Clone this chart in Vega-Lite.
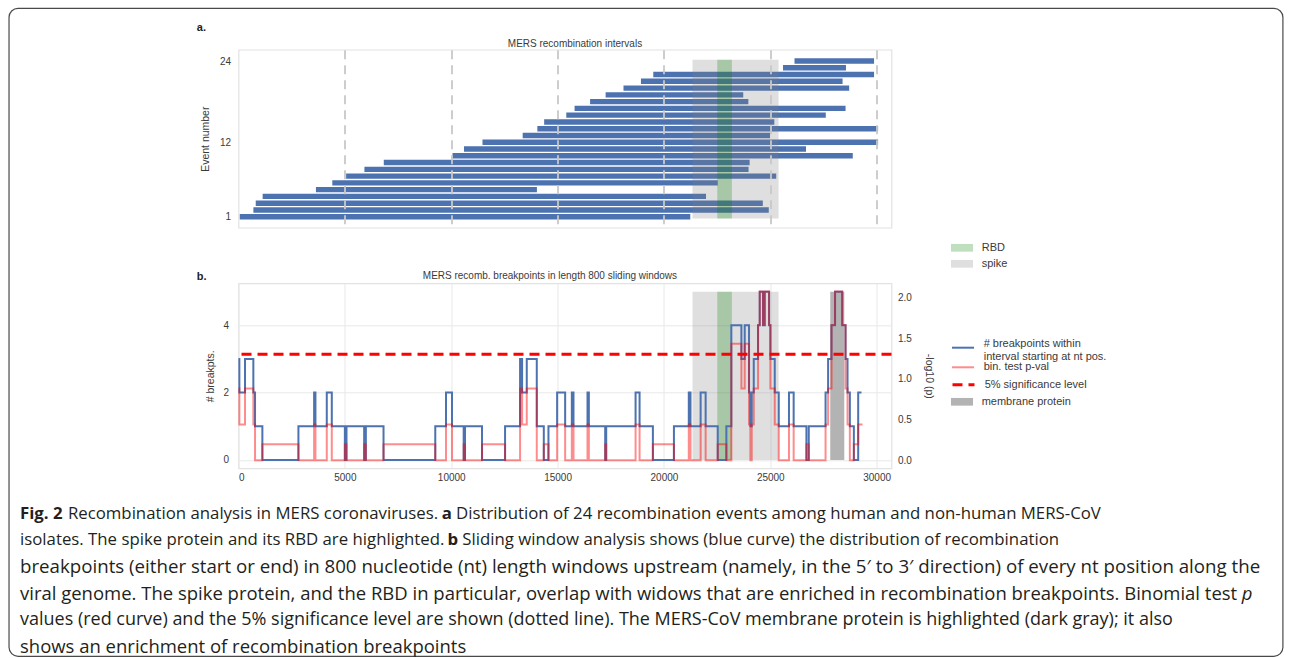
{
  "$schema": "https://vega.github.io/schema/vega-lite/v6.json",
  "background": "white",
  "padding": {"left": 7.5, "top": 6.7, "right": 0, "bottom": 0},
  "bounds": "flush",
  "spacing": 55.6,
  "config": {
    "font": "Liberation Sans",
    "view": {"stroke": "#e2e2e2", "strokeWidth": 1.2},
    "axis": {"labelFontSize": 10, "labelColor": "#3a3a3a", "titleFontSize": 10.5, "titleFontWeight": "normal", "titleColor": "#3a3a3a", "ticks": false, "domain": false, "gridColor": "#e8e8e8", "gridWidth": 1, "labelOverlap": false},
    "legend": {"labelFontSize": 11, "labelColor": "#3a3a3a", "padding": 0}
  },
  "resolve": {
    "scale": {"fill": "independent", "stroke": "independent", "color": "independent", "opacity": "independent", "strokeDash": "independent", "size": "independent"},
    "legend": {"fill": "independent", "stroke": "independent", "color": "independent", "opacity": "independent", "strokeDash": "independent", "size": "independent"}
  },
  "datasets": {
    "events": [
      {"event": 1, "start": 60, "end": 21240},
      {"event": 2, "start": 700, "end": 24930},
      {"event": 3, "start": 810, "end": 24650},
      {"event": 4, "start": 1135, "end": 21980},
      {"event": 5, "start": 3640, "end": 14030},
      {"event": 6, "start": 4410, "end": 22530},
      {"event": 7, "start": 5060, "end": 25280},
      {"event": 8, "start": 5920, "end": 23980},
      {"event": 9, "start": 6830, "end": 24030},
      {"event": 10, "start": 10060, "end": 28880},
      {"event": 11, "start": 10600, "end": 26680},
      {"event": 12, "start": 11470, "end": 30070},
      {"event": 13, "start": 13360, "end": 24990},
      {"event": 14, "start": 14050, "end": 30070},
      {"event": 15, "start": 14370, "end": 25190},
      {"event": 16, "start": 15410, "end": 27610},
      {"event": 17, "start": 15800, "end": 28540},
      {"event": 18, "start": 16530, "end": 23970},
      {"event": 19, "start": 17260, "end": 23730},
      {"event": 20, "start": 18100, "end": 28710},
      {"event": 21, "start": 18920, "end": 28400},
      {"event": 22, "start": 19500, "end": 29880},
      {"event": 23, "start": 25600, "end": 28560},
      {"event": 24, "start": 26140, "end": 29880}
    ],
    "regions": [
      {"region": "spike", "start": 21345, "end": 25390},
      {"region": "RBD", "start": 22510, "end": 23195}
    ],
    "membrane": [
      {"name": "membrane protein", "start": 27820, "end": 28480}
    ],
    "sig": [
      {"label": "5% significance level", "p": 1.301}
    ],
    "frame": [
      {"frame": "figure"}
    ],
    "labels": [
      {"panel": "a", "label": "a."},
      {"panel": "b", "label": "b."},
      {"panel": "ta", "label": "MERS recombination intervals"},
      {"panel": "tb", "label": "MERS recomb. breakpoints in length 800 sliding windows"}
    ],
    "breaks": [
      {"pos": 0, "n": 3}, {"pos": 40, "n": 2}, {"pos": 306, "n": 3}, {"pos": 698, "n": 2}, {"pos": 777, "n": 1},
      {"pos": 1122, "n": 0}, {"pos": 2817, "n": 1}, {"pos": 3555, "n": 2}, {"pos": 3617, "n": 1}, {"pos": 4150, "n": 2},
      {"pos": 4386, "n": 1}, {"pos": 5000, "n": 0}, {"pos": 5077, "n": 1}, {"pos": 5908, "n": 0}, {"pos": 5987, "n": 1},
      {"pos": 6818, "n": 0}, {"pos": 9251, "n": 1}, {"pos": 9755, "n": 2}, {"pos": 10037, "n": 1}, {"pos": 10586, "n": 0},
      {"pos": 10649, "n": 1}, {"pos": 11449, "n": 0}, {"pos": 12532, "n": 1}, {"pos": 13238, "n": 3}, {"pos": 13333, "n": 2},
      {"pos": 13552, "n": 3}, {"pos": 14023, "n": 1}, {"pos": 14353, "n": 0}, {"pos": 14572, "n": 1}, {"pos": 14980, "n": 2},
      {"pos": 15357, "n": 1}, {"pos": 15671, "n": 2}, {"pos": 15749, "n": 1}, {"pos": 16408, "n": 2}, {"pos": 16471, "n": 1},
      {"pos": 17240, "n": 0}, {"pos": 17287, "n": 1}, {"pos": 18668, "n": 2}, {"pos": 18856, "n": 1}, {"pos": 19482, "n": 0},
      {"pos": 20471, "n": 1}, {"pos": 21170, "n": 2}, {"pos": 21250, "n": 1}, {"pos": 21727, "n": 2}, {"pos": 21962, "n": 1},
      {"pos": 22530, "n": 0}, {"pos": 22936, "n": 1}, {"pos": 23170, "n": 4}, {"pos": 23643, "n": 3}, {"pos": 23799, "n": 4},
      {"pos": 24002, "n": 2}, {"pos": 24066, "n": 1}, {"pos": 24128, "n": 2}, {"pos": 24224, "n": 3}, {"pos": 24426, "n": 4},
      {"pos": 24505, "n": 5}, {"pos": 24660, "n": 4}, {"pos": 24740, "n": 5}, {"pos": 24944, "n": 4}, {"pos": 25007, "n": 3},
      {"pos": 25211, "n": 2}, {"pos": 25400, "n": 1}, {"pos": 25880, "n": 2}, {"pos": 26100, "n": 1}, {"pos": 26700, "n": 0},
      {"pos": 26810, "n": 1}, {"pos": 27600, "n": 2}, {"pos": 27720, "n": 3}, {"pos": 27880, "n": 4}, {"pos": 28046, "n": 5},
      {"pos": 28381, "n": 4}, {"pos": 28540, "n": 3}, {"pos": 28633, "n": 2}, {"pos": 28742, "n": 1}, {"pos": 28930, "n": 0},
      {"pos": 29134, "n": 2}, {"pos": 29290, "n": 2}
    ],
    "pvals": [
      {"pos": 0, "p": 0.88}, {"pos": 40, "p": 0.44}, {"pos": 306, "p": 0.88}, {"pos": 698, "p": 0.44}, {"pos": 777, "p": 0},
      {"pos": 1122, "p": 0.196}, {"pos": 2817, "p": 0}, {"pos": 3555, "p": 0.44}, {"pos": 3617, "p": 0}, {"pos": 4150, "p": 0.44},
      {"pos": 4386, "p": 0}, {"pos": 5000, "p": 0.196}, {"pos": 5077, "p": 0}, {"pos": 5908, "p": 0.196}, {"pos": 5987, "p": 0},
      {"pos": 6818, "p": 0.196}, {"pos": 9251, "p": 0}, {"pos": 9755, "p": 0.44}, {"pos": 10037, "p": 0}, {"pos": 10586, "p": 0.196},
      {"pos": 10649, "p": 0}, {"pos": 11449, "p": 0.196}, {"pos": 12532, "p": 0}, {"pos": 13238, "p": 0.88}, {"pos": 13333, "p": 0.44},
      {"pos": 13552, "p": 0.88}, {"pos": 14023, "p": 0}, {"pos": 14353, "p": 0.196}, {"pos": 14572, "p": 0}, {"pos": 14980, "p": 0.44},
      {"pos": 15357, "p": 0}, {"pos": 15671, "p": 0.44}, {"pos": 15749, "p": 0}, {"pos": 16408, "p": 0.44}, {"pos": 16471, "p": 0},
      {"pos": 17240, "p": 0.196}, {"pos": 17287, "p": 0}, {"pos": 18668, "p": 0.44}, {"pos": 18856, "p": 0}, {"pos": 19482, "p": 0.196},
      {"pos": 20471, "p": 0}, {"pos": 21170, "p": 0.44}, {"pos": 21250, "p": 0}, {"pos": 21727, "p": 0.44}, {"pos": 21962, "p": 0},
      {"pos": 22530, "p": 0.196}, {"pos": 22936, "p": 0}, {"pos": 23170, "p": 1.43}, {"pos": 23643, "p": 0.88}, {"pos": 23799, "p": 1.43},
      {"pos": 24002, "p": 0.44}, {"pos": 24066, "p": 0}, {"pos": 24128, "p": 0.44}, {"pos": 24224, "p": 0.88}, {"pos": 24426, "p": 1.66},
      {"pos": 24505, "p": 2.07}, {"pos": 24660, "p": 1.66}, {"pos": 24740, "p": 2.07}, {"pos": 24944, "p": 1.66}, {"pos": 25007, "p": 0.88},
      {"pos": 25211, "p": 0.44}, {"pos": 25400, "p": 0}, {"pos": 25880, "p": 0.44}, {"pos": 26100, "p": 0}, {"pos": 26700, "p": 0.196},
      {"pos": 26810, "p": 0}, {"pos": 27600, "p": 0.44}, {"pos": 27720, "p": 0.88}, {"pos": 27880, "p": 1.66}, {"pos": 28046, "p": 2.07},
      {"pos": 28381, "p": 1.66}, {"pos": 28540, "p": 0.88}, {"pos": 28633, "p": 0.44}, {"pos": 28742, "p": 0}, {"pos": 28930, "p": 0.196},
      {"pos": 29134, "p": 0.44}, {"pos": 29340, "p": 0.44}
    ],
    "caption": [
      {"line": 1, "seg": "fig", "text": "Fig. 2"},
      {"line": 1, "seg": "c1", "text": "Recombination analysis in MERS coronaviruses."},
      {"line": 1, "seg": "ba", "text": "a"},
      {"line": 1, "seg": "c3", "text": "Distribution of 24 recombination events among human and non-human MERS-CoV"},
      {"line": 2, "seg": "s0", "text": "isolates. The spike protein and its RBD are highlighted."},
      {"line": 2, "seg": "bb", "text": "b"},
      {"line": 2, "seg": "c5", "text": "Sliding window analysis shows (blue curve) the distribution of recombination"},
      {"line": 3, "seg": "s0", "text": "breakpoints (either start or end) in 800 nucleotide (nt) length windows upstream (namely, in the 5′ to 3′ direction) of every nt position along the"},
      {"line": 4, "seg": "s0", "text": "viral genome. The spike protein, and the RBD in particular, overlap with widows that are enriched in recombination breakpoints. Binomial test"},
      {"line": 4, "seg": "ip", "text": "p"},
      {"line": 5, "seg": "s0", "text": "values (red curve) and the 5% significance level are shown (dotted line). The MERS-CoV membrane protein is highlighted (dark gray); it also"},
      {"line": 6, "seg": "s0", "text": "shows an enrichment of recombination breakpoints"}
    ]
  },
  "vconcat": [
    {
      "width": 653,
      "height": 178,
      "layer": [
        {
          "data": {"name": "events"},
          "mark": {"type": "bar", "size": 5.4, "color": "#4c72b0"},
          "encoding": {
            "x": {"field": "start", "type": "quantitative", "scale": {"domain": [0, 30700], "nice": false, "zero": false, "padding": 0},
                  "axis": {"values": [5000, 10000, 15000, 20000, 25000, 30000], "labels": false, "grid": true, "gridDash": [9, 6], "gridColor": "#c8c8c8", "gridWidth": 1.8, "title": null, "zindex": 1}},
            "x2": {"field": "end"},
            "y": {"field": "event", "type": "quantitative", "scale": {"domain": [-0.62, 25.67], "nice": false, "zero": false, "padding": 0},
                  "axis": {"values": [1, 12, 24], "grid": false, "title": "Event number", "labelPadding": 8, "titlePadding": 9}}
          }
        },
        {
          "data": {"name": "regions"},
          "mark": {"type": "rect", "opacity": 0.25},
          "encoding": {
            "x": {"field": "start", "type": "quantitative", "scale": {"domain": [0, 30700], "nice": false, "zero": false, "padding": 0}},
            "x2": {"field": "end"},
            "y": {"datum": 0.75, "type": "quantitative", "scale": {"domain": [-0.62, 25.67], "nice": false, "zero": false, "padding": 0}},
            "y2": {"datum": 24.2},
            "fill": {"field": "region", "type": "nominal", "scale": {"domain": ["RBD", "spike"], "range": ["#008000", "#808080"]}, "legend": null}
          }
        },
        {
          "data": {"name": "frame"},
          "mark": {"type": "rect", "fill": "white", "fillOpacity": 0, "stroke": "#4a4a4a", "strokeWidth": 1.2, "cornerRadius": 9},
          "encoding": {
            "x": {"datum": -10789, "type": "quantitative", "scale": {"domain": [0, 30700], "nice": false, "zero": false, "padding": 0}},
            "x2": {"datum": 49102},
            "y": {"datum": 31.78, "type": "quantitative", "scale": {"domain": [-0.62, 25.67], "nice": false, "zero": false, "padding": 0}},
            "y2": {"datum": -63.93}
          }
        },
        {
          "data": {"name": "labels"},
          "transform": [{"filter": "datum.panel == 'a'"}],
          "mark": {"type": "text", "fontWeight": "bold", "fontSize": 11, "align": "left", "baseline": "middle", "color": "#222222"},
          "encoding": {
            "x": {"datum": -1960, "type": "quantitative", "scale": {"domain": [0, 30700], "nice": false, "zero": false, "padding": 0}},
            "y": {"datum": 28.9, "type": "quantitative", "scale": {"domain": [-0.62, 25.67], "nice": false, "zero": false, "padding": 0}},
            "text": {"field": "label"}
          }
        },
        {
          "data": {"name": "labels"},
          "transform": [{"filter": "datum.panel == 'ta'"}],
          "mark": {"type": "text", "fontSize": 10, "align": "center", "baseline": "middle", "color": "#3a3a3a"},
          "encoding": {
            "x": {"datum": 15819, "type": "quantitative", "scale": {"domain": [0, 30700], "nice": false, "zero": false, "padding": 0}},
            "y": {"datum": 26.55, "type": "quantitative", "scale": {"domain": [-0.62, 25.67], "nice": false, "zero": false, "padding": 0}},
            "text": {"field": "label"}
          }
        }
      ]
    },
    {
      "width": 653,
      "height": 185,
      "resolve": {"scale": {"y": "independent"}},
      "layer": [
        {
          "layer": [
            {
              "data": {"name": "regions"},
              "mark": {"type": "rect", "opacity": 0.25},
              "encoding": {
                "x": {"field": "start", "type": "quantitative", "scale": {"domain": [0, 30700], "nice": false, "zero": false},
                      "axis": {"values": [0, 5000, 10000, 15000, 20000, 25000, 30000], "format": "d", "grid": true, "title": null, "labelPadding": 4}},
                "x2": {"field": "end"},
                "y": {"datum": 0, "type": "quantitative", "scale": {"domain": [-0.25, 5.25], "nice": false, "zero": false},
                      "axis": {"orient": "left", "values": [0, 1, 2, 3, 4, 5], "grid": true, "title": "# breakpts.", "labelPadding": 10, "titlePadding": 7}},
                "y2": {"datum": 5},
                "fill": {"field": "region", "type": "nominal", "scale": {"domain": ["RBD", "spike"], "range": ["#008000", "#808080"]},
                         "legend": {"orient": "none", "legendX": 712.5, "legendY": -46.5, "title": null, "symbolType": "M-1,-0.35H1V0.35H-1Z", "symbolSize": 484, "symbolOpacity": 0.25, "symbolStrokeWidth": 0, "labelOffset": 8.7, "rowPadding": 0}}
              }
            },
            {
              "data": {"name": "membrane"},
              "mark": {"type": "rect", "fill": "#b3b3b3"},
              "encoding": {
                "x": {"field": "start", "type": "quantitative", "scale": {"domain": [0, 30700], "nice": false, "zero": false}},
                "x2": {"field": "end"},
                "y": {"datum": 0, "type": "quantitative", "scale": {"domain": [-0.25, 5.25], "nice": false, "zero": false}},
                "y2": {"datum": 5},
                "opacity": {"field": "name", "type": "ordinal", "scale": {"range": [1]},
                            "legend": {"orient": "none", "legendX": 712.5, "legendY": 107.5, "title": null, "symbolType": "M-1,-0.35H1V0.35H-1Z", "symbolSize": 484, "symbolFillColor": "#b3b3b3", "symbolStrokeWidth": 0, "labelOffset": 8.7}}
              }
            },
            {
              "data": {"name": "breaks"},
              "mark": {"type": "line", "interpolate": "step-after", "strokeWidth": 2},
              "encoding": {
                "x": {"field": "pos", "type": "quantitative", "scale": {"domain": [0, 30700], "nice": false, "zero": false}},
                "y": {"field": "n", "type": "quantitative", "scale": {"domain": [-0.25, 5.25], "nice": false, "zero": false}},
                "stroke": {"datum": "bp", "type": "nominal", "scale": {"domain": ["bp"], "range": ["#4c72b0"]},
                           "legend": {"orient": "none", "legendX": 712.5, "legendY": 52.4, "title": null, "symbolType": "stroke", "symbolSize": 484, "symbolStrokeWidth": 2, "labelOffset": 8.7, "labelLimit": 300,
                                      "labelExpr": "['# breakpoints within', '\u00a0interval starting at nt pos.']",
                                      "encode": {"labels": {"update": {"dy": {"value": -3.4}}}}}}
              }
            },
            {
              "data": {"name": "labels"},
              "transform": [{"filter": "datum.panel == 'b'"}],
              "mark": {"type": "text", "fontWeight": "bold", "fontSize": 11, "align": "left", "baseline": "middle", "color": "#222222"},
              "encoding": {
                "x": {"datum": -1960, "type": "quantitative", "scale": {"domain": [0, 30700], "nice": false, "zero": false}},
                "y": {"datum": 5.43, "type": "quantitative", "scale": {"domain": [-0.25, 5.25], "nice": false, "zero": false}},
                "text": {"field": "label"}
              }
            },
            {
              "data": {"name": "labels"},
              "transform": [{"filter": "datum.panel == 'tb'"}],
              "mark": {"type": "text", "fontSize": 10, "align": "center", "baseline": "middle", "color": "#3a3a3a"},
              "encoding": {
                "x": {"datum": 14643, "type": "quantitative", "scale": {"domain": [0, 30700], "nice": false, "zero": false}},
                "y": {"datum": 5.46, "type": "quantitative", "scale": {"domain": [-0.25, 5.25], "nice": false, "zero": false}},
                "text": {"field": "label"}
              }
            }
          ]
        },
        {
          "layer": [
            {
              "data": {"name": "pvals"},
              "mark": {"type": "line", "interpolate": "step-after", "strokeWidth": 2, "strokeOpacity": 0.45},
              "encoding": {
                "x": {"field": "pos", "type": "quantitative", "scale": {"domain": [0, 30700], "nice": false, "zero": false}},
                "y": {"field": "p", "type": "quantitative", "scale": {"domain": [-0.098, 2.172], "nice": false, "zero": false},
                      "axis": {"orient": "right", "values": [0, 0.5, 1, 1.5, 2], "format": ".1f", "grid": false, "title": "-log10 (p)", "labelPadding": 6, "titlePadding": 12}},
                "color": {"datum": "bin. test p-val", "type": "nominal", "scale": {"range": ["#ff0000"]},
                          "legend": {"orient": "none", "legendX": 712.5, "legendY": 72, "title": null, "symbolType": "stroke", "symbolSize": 484, "symbolStrokeWidth": 2, "symbolOpacity": 0.45, "labelOffset": 8.7}}
              }
            },
            {
              "data": {"name": "sig"},
              "mark": {"type": "rule", "stroke": "red", "strokeWidth": 3},
              "encoding": {
                "y": {"field": "p", "type": "quantitative", "scale": {"domain": [-0.098, 2.172], "nice": false, "zero": false}},
                "strokeDash": {"field": "label", "type": "nominal", "scale": {"range": [[10, 6]]},
                               "legend": {"orient": "none", "legendX": 712.5, "legendY": 88.9, "title": null, "symbolType": "stroke", "symbolSize": 484, "symbolStrokeColor": "red", "symbolStrokeWidth": 3, "labelOffset": 8.7}}
              }
            }
          ]
        }
      ]
    },
    {
      "width": 1051,
      "height": 160,
      "view": {"stroke": null},
      "data": {"name": "caption"},
      "encoding": {
        "y": {"field": "line", "type": "quantitative", "scale": {"domain": [1.378, 7.378], "reverse": true, "nice": false, "zero": false}, "axis": null},
        "size": {"field": "line", "type": "quantitative", "scale": {"type": "threshold", "domain": [1.5, 2.5, 3.5, 4.5, 5.5], "range": [16.8, 16.8, 18.7, 18.5, 18, 18.5]}, "legend": null}
      },
      "layer": [
        {
          "transform": [{"filter": "datum.seg == 's0'"}],
          "mark": {"type": "text", "align": "left", "baseline": "middle", "font": "Open Sans", "color": "#231f20"},
          "encoding": {"x": {"datum": -218.5, "type": "quantitative", "scale": {"domain": [0, 1051], "nice": false, "zero": false}, "axis": null}, "text": {"field": "text"}}
        },
        {
          "transform": [{"filter": "datum.seg == 'fig'"}],
          "mark": {"type": "text", "align": "left", "baseline": "middle", "font": "Open Sans", "fontWeight": "bold", "color": "#231f20"},
          "encoding": {"x": {"datum": -218.5, "type": "quantitative"}, "text": {"field": "text"}}
        },
        {
          "transform": [{"filter": "datum.seg == 'c1'"}],
          "mark": {"type": "text", "align": "left", "baseline": "middle", "font": "Open Sans", "color": "#231f20"},
          "encoding": {"x": {"datum": -170.6, "type": "quantitative"}, "text": {"field": "text"}}
        },
        {
          "transform": [{"filter": "datum.seg == 'ba'"}],
          "mark": {"type": "text", "align": "left", "baseline": "middle", "font": "Open Sans", "fontWeight": "bold", "color": "#231f20"},
          "encoding": {"x": {"datum": 203.3, "type": "quantitative"}, "text": {"field": "text"}}
        },
        {
          "transform": [{"filter": "datum.seg == 'c3'"}],
          "mark": {"type": "text", "align": "left", "baseline": "middle", "font": "Open Sans", "color": "#231f20"},
          "encoding": {"x": {"datum": 217.5, "type": "quantitative"}, "text": {"field": "text"}}
        },
        {
          "transform": [{"filter": "datum.seg == 'bb'"}],
          "mark": {"type": "text", "align": "left", "baseline": "middle", "font": "Open Sans", "fontWeight": "bold", "color": "#231f20"},
          "encoding": {"x": {"datum": 208.9, "type": "quantitative"}, "text": {"field": "text"}}
        },
        {
          "transform": [{"filter": "datum.seg == 'c5'"}],
          "mark": {"type": "text", "align": "left", "baseline": "middle", "font": "Open Sans", "color": "#231f20"},
          "encoding": {"x": {"datum": 223.7, "type": "quantitative"}, "text": {"field": "text"}}
        },
        {
          "transform": [{"filter": "datum.seg == 'ip'"}],
          "mark": {"type": "text", "align": "left", "baseline": "middle", "font": "Open Sans", "fontStyle": "italic", "color": "#231f20"},
          "encoding": {"x": {"datum": 1003.3, "type": "quantitative"}, "text": {"field": "text"}}
        }
      ]
    }
  ]
}
